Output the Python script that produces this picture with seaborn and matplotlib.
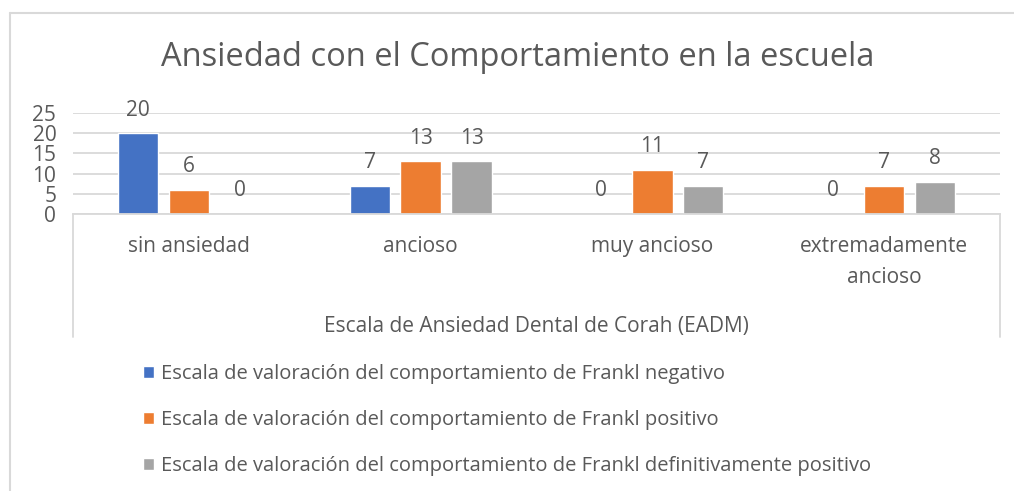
import matplotlib.pyplot as plt
import pandas as pd
import seaborn as sns
from matplotlib.lines import Line2D

# Data
categories = ['sin ansiedad', 'ancioso', 'muy ancioso', 'extremadamente\nancioso']
series = [
    'Escala de valoración del comportamiento de Frankl negativo',
    'Escala de valoración del comportamiento de Frankl positivo',
    'Escala de valoración del comportamiento de Frankl definitivamente positivo',
]
negativo = [20, 7, 0, 0]
positivo = [6, 13, 11, 7]
def_positivo = [0, 13, 7, 8]
colors = ['#4472C4', '#ED7D31', '#A5A5A5']

df = pd.DataFrame({
    'cat': categories * 3,
    'serie': [series[0]] * 4 + [series[1]] * 4 + [series[2]] * 4,
    'value': negativo + positivo + def_positivo,
})

sns.set_style('white')
plt.rcParams['font.family'] = ['Open Sans', 'DejaVu Sans']
text_col = '#595959'
grid_col = '#D9D9D9'

fig = plt.figure(figsize=(10.14, 4.91), dpi=100)
ax = fig.add_axes([73 / 1014, 1 - 214 / 491, (1000 - 73) / 1014, 101 / 491])

sns.barplot(data=df, x='cat', y='value', hue='serie', order=categories,
            hue_order=series, palette=colors, width=0.66, gap=0.21,
            saturation=1, ax=ax)

ax.set_ylim(0, 25)
ax.set_xlim(-0.5, 3.5)
ax.set_yticks([0, 5, 10, 15, 20, 25])
ax.yaxis.grid(True, color=grid_col, linewidth=1.3)
ax.set_axisbelow(True)
for s in ['top', 'right', 'left']:
    ax.spines[s].set_visible(False)
ax.spines['bottom'].set_color(grid_col)
ax.spines['bottom'].set_linewidth(1.3)

ax.tick_params(axis='y', length=0, labelsize=15, labelcolor=text_col, pad=12)
ax.tick_params(axis='x', length=0, labelsize=15, labelcolor=text_col, pad=16)
for lbl in ax.get_xticklabels():
    lbl.set_linespacing(1.6)
    lbl.set_verticalalignment('top')

for cont in ax.containers:
    ax.bar_label(cont, padding=9, fontsize=15, color=text_col)

ax.set_xlabel('Escala de Ansiedad Dental de Corah (EADM)', fontsize=15,
              color=text_col, labelpad=20)
ax.set_ylabel('')

# box lines framing the category area
for xx in [0, 1]:
    ax.plot([xx, xx], [0, -123 / 101], transform=ax.transAxes, color=grid_col,
            linewidth=1.3, clip_on=False)

fig.suptitle('Ansiedad con el Comportamiento en la escuela', x=518 / 1014,
             y=1 - 58 / 491, va='center', fontsize=23.5, color=text_col)

handles, labels = ax.get_legend_handles_labels()
ax.get_legend().remove()
fig.legend(handles, labels, loc='upper left', bbox_to_anchor=(125 / 1014, 1 - 346 / 491),
           frameon=False, fontsize=14.5, labelcolor=text_col, handlelength=0.55,
           handleheight=0.55, handletextpad=0.35, labelspacing=1.3)

# outer chart border
fig.add_artist(Line2D([10 / 1014, 10 / 1014], [0, 1 - 13 / 491], color=grid_col, linewidth=1.5))
fig.add_artist(Line2D([10 / 1014, 1], [1 - 13 / 491, 1 - 13 / 491], color=grid_col, linewidth=1.5))

fig.savefig('out.png', dpi=100)
